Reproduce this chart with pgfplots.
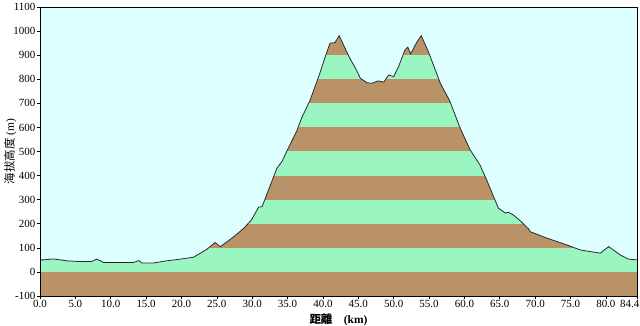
\documentclass[border=0pt]{standalone}
\usepackage{fontspec}
\setmainfont{Liberation Serif}
\newfontfamily\cjk{Noto Sans CJK TC}
\usepackage{pgfplots}
\pgfplotsset{compat=1.18}
\usepgfplotslibrary{fillbetween}
\definecolor{bg}{RGB}{221,255,255}
\definecolor{grn}{RGB}{155,245,193}
\definecolor{brn}{RGB}{186,146,104}
\definecolor{ln}{RGB}{40,40,40}
\begin{document}
\begin{tikzpicture}
\begin{axis}[
  at={(0,0)}, anchor=south west,
  set layers, axis on top,
  scale only axis, width=597bp, height=289bp,
  xmin=0, xmax=84.4, ymin=-100, ymax=1100,
  xtick={0,5,...,80}, xticklabels={0.0,5.0,10.0,15.0,20.0,25.0,30.0,35.0,40.0,45.0,50.0,55.0,60.0,65.0,70.0,75.0,80.0},
  extra x ticks={84.4}, extra x tick labels={84.4},
  extra x tick style={tick label style={anchor=north east, xshift=4bp}},
  ytick={-100,0,...,1100}, yticklabels={-100,0,100,200,300,400,500,600,700,800,900,1000,1100},
  xtick pos=left, ytick pos=left, tick align=outside,
  major tick length=3bp,
  tick style={black, line width=0.6pt},
  axis line style={black, line width=0.9pt},
  tick label style={font=\fontsize{11}{12}\selectfont},
  xticklabel style={inner sep=1.5pt},
  yticklabel style={inner sep=1.5pt},
  xlabel={{\cjk\bfseries 距離}\quad\textbf{(km)}},
  ylabel={{\cjk 海拔高度} (m)},
  label style={font=\fontsize{11.5}{12}\selectfont},
  xlabel style={yshift=5bp},
  ylabel style={yshift=-8bp},
]
\pgfplotstableread{
x y
0 50
0.5 50
1.9 54
3.8 46
5.7 43
7.3 43
8.0 53
8.5 47
9.0 39
10.8 39
13.2 39
14.0 47
14.4 37
16.0 37
17.9 46
19.8 53
21.7 61
23.6 94
24.75 122
25.5 105
27.3 144
28.8 181
29.9 216
30.9 269
31.4 271
32.3 340
33.5 431
34.2 458
35.1 514
36.3 585
37.0 640
38.2 714
39.5 820
40.5 908
41.0 950
41.7 952
42.3 981
42.9 943
43.8 887
44.6 846
45.3 804
46.2 786
46.9 783
47.8 793
48.6 788
49.3 818
50.0 811
50.7 853
51.6 922
52.0 933
52.4 905
53.2 950
53.9 981
54.9 915
56.6 783
57.9 712
59.4 597
60.8 507
62.2 444
63.2 378
64.8 265
65.8 244
66.2 248
66.9 237
67.9 212
69.1 178
69.3 167
71.7 140
74.5 112
76.4 91
79.2 78
80.4 105
82.0 71
83.2 53
84.4 50
}\prof
% horizontal stripes (background layer)
\addplot[on layer=axis background, fill=grn, draw=none] coordinates {(0,-100) (84.4,-100) (84.4,1100) (0,1100)} -- cycle;
\addplot[on layer=axis background, fill=brn, draw=none] coordinates {(0,-100) (84.4,-100) (84.4,0) (0,0)} -- cycle;
\addplot[on layer=axis background, fill=brn, draw=none] coordinates {(0,100) (84.4,100) (84.4,200) (0,200)} -- cycle;
\addplot[on layer=axis background, fill=brn, draw=none] coordinates {(0,300) (84.4,300) (84.4,400) (0,400)} -- cycle;
\addplot[on layer=axis background, fill=brn, draw=none] coordinates {(0,500) (84.4,500) (84.4,600) (0,600)} -- cycle;
\addplot[on layer=axis background, fill=brn, draw=none] coordinates {(0,700) (84.4,700) (84.4,800) (0,800)} -- cycle;
\addplot[on layer=axis background, fill=brn, draw=none] coordinates {(0,900) (84.4,900) (84.4,1000) (0,1000)} -- cycle;
% sky above profile
\addplot[name path=top, draw=none] coordinates {(0,1100) (84.4,1100)};
\addplot[name path=prof, draw=none] table[x=x,y=y] {\prof};
\addplot[fill=bg, draw=none] fill between[of=prof and top];
\addplot[ln, line width=0.8pt] table[x=x,y=y] {\prof};
\end{axis}
\pgfresetboundingbox
\path[use as bounding box] (-40bp,-30bp) rectangle (600bp,296bp);
\end{tikzpicture}
\end{document}
